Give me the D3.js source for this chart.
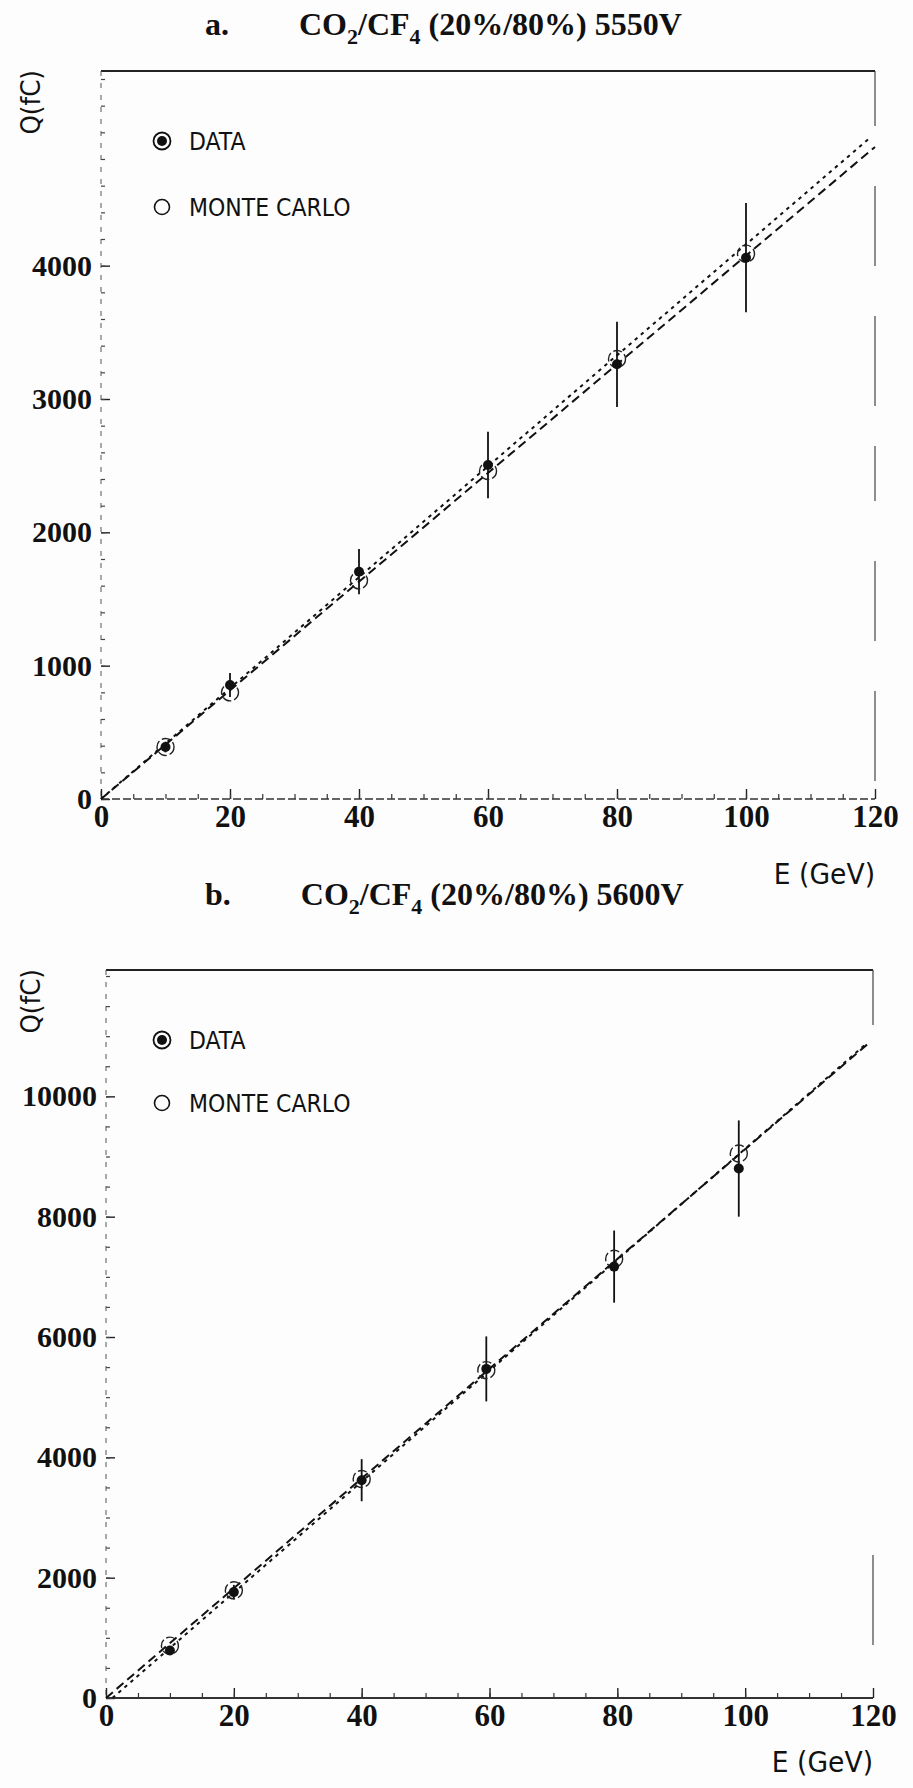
<!DOCTYPE html>
<html>
<head>
<meta charset="utf-8">
<script src="https://cdn.jsdelivr.net/npm/d3@7"></script>
<style>
  body { margin: 0; background: #fdfdfd; }
  svg { display: block; }
</style>
</head>
<body>
<svg id="chart" width="913" height="1788"></svg>
<script>
// ---- Panel a: CO2/CF4 (20%/80%) at 5550 V ----
const energyA   = [10, 20, 40, 60, 80, 100];
const dataQA    = [390, 855, 1705, 2505, 3260, 4060];
const dataErrA  = [40, 90, 170, 250, 320, 410];
const mcEnergyA = [10, 20, 40, 60, 80, 100];
const mcQA      = [390, 800, 1640, 2460, 3300, 4090];
const fitDataEA = [0, 120];
const fitDataQA = [0, 4890];
const fitMcEA   = [0, 119];
const fitMcQA   = [0, 4950];
const yMajorA   = [0, 1000, 2000, 3000, 4000];

// ---- Panel b: CO2/CF4 (20%/80%) at 5600 V ----
const energyB   = [10, 20, 40, 59.5, 79.5, 99];
const dataQB    = [790, 1760, 3620, 5470, 7170, 8800];
const dataErrB  = [60, 120, 350, 540, 600, 800];
const mcEnergyB = [10, 20, 40, 59.5, 79.5, 99];
const mcQB      = [870, 1790, 3640, 5450, 7300, 9050];
const fitDataEB = [0, 119.5];
const fitDataQB = [0, 10900];
const fitMcEB   = [1, 119];
const fitMcQB   = [0, 10880];
const yMajorB   = [0, 2000, 4000, 6000, 8000, 10000];

const xMajor = [0, 20, 40, 60, 80, 100, 120];
const legendLabels = ["DATA", "MONTE CARLO"];

const svg = d3.select("#chart");
const INK = "#111";

function drawPanel(p) {
  const g = svg.append("g");
  const x = d3.scaleLinear().domain([0, 120]).range([p.left, p.right]);
  const y = d3.scaleLinear().domain([0, p.yMax]).range([p.bottom, p.top]);

  // title with subscripts
  const t = g.append("text")
    .attr("x", p.titleX).attr("y", p.titleY)
    .attr("font-family", "'Liberation Serif', 'Times New Roman', serif")
    .attr("font-weight", "bold").attr("font-size", 32).attr("fill", INK);
  t.append("tspan").text(p.tag);
  t.append("tspan").attr("dx", 70).text("CO");
  t.append("tspan").attr("dy", 9).attr("font-size", 22).text("2");
  t.append("tspan").attr("dy", -9).text(p.cf);
  t.append("tspan").attr("dy", 9).attr("font-size", 22).text("4");
  t.append("tspan").attr("dy", -9).attr("dx", 8).text("(20%/80%)  " + p.volt);

  // frame: top border and broken right border
  g.append("line").attr("x1", p.left).attr("x2", p.right)
    .attr("y1", p.top).attr("y2", p.top)
    .attr("stroke", "#222").attr("stroke-width", 2);
  g.append("line").attr("x1", p.right).attr("x2", p.right)
    .attr("y1", p.top).attr("y2", p.bottom)
    .attr("stroke", "#333").attr("stroke-width", 1.1).attr("stroke-dasharray", p.rightDash);

  // left axis (ticks pointing inward)
  const yAxis = g.append("g").attr("transform", `translate(${p.left},0)`)
    .call(d3.axisLeft(y).tickValues(p.yMajor).tickSize(-9).tickPadding(9)
      .tickFormat(d3.format("d")));
  yAxis.select(".domain").remove();
  yAxis.selectAll("line").attr("stroke", "#222").attr("stroke-width", 1.4);
  yAxis.selectAll("text")
    .attr("font-family", "'Liberation Serif', 'Times New Roman', serif")
    .attr("font-weight", "bold").attr("font-size", 30).attr("fill", INK);
  const yMinor = g.append("g").attr("transform", `translate(${p.left},0)`)
    .call(d3.axisLeft(y).tickValues(d3.range(0, p.yMax, p.yMinorStep)).tickSize(-4).tickFormat(""));
  yMinor.select(".domain").remove();
  yMinor.selectAll("line").attr("stroke", "#444").attr("stroke-width", 1.2);
  g.append("line").attr("x1", p.left).attr("x2", p.left)
    .attr("y1", p.top).attr("y2", p.bottom)
    .attr("stroke", "#555").attr("stroke-width", 1).attr("stroke-dasharray", "5,7");

  // bottom axis (ticks pointing inward)
  const xAxis = g.append("g").attr("transform", `translate(0,${p.bottom})`)
    .call(d3.axisBottom(x).tickValues(xMajor).tickSize(-10).tickPadding(6)
      .tickFormat(d3.format("d")));
  xAxis.select(".domain").remove();
  xAxis.selectAll("line").attr("stroke", "#222").attr("stroke-width", 1.4);
  xAxis.selectAll("text")
    .attr("font-family", "'Liberation Serif', 'Times New Roman', serif")
    .attr("font-weight", "bold").attr("font-size", 31).attr("fill", INK);
  const xMinor = g.append("g").attr("transform", `translate(0,${p.bottom})`)
    .call(d3.axisBottom(x).tickValues(d3.range(5, 120, 5)).tickSize(-5).tickFormat(""));
  xMinor.select(".domain").remove();
  xMinor.selectAll("line").attr("stroke", "#333").attr("stroke-width", 1.2);
  g.append("line").attr("x1", p.left).attr("x2", p.right)
    .attr("y1", p.bottom).attr("y2", p.bottom)
    .attr("stroke", "#333").attr("stroke-width", p.xAxisWidth).attr("stroke-dasharray", p.xAxisDash);

  // axis titles
  g.append("text")
    .attr("transform", `translate(${p.qX},${p.qY}) rotate(-90) scale(0.95,1)`)
    .attr("text-anchor", "end")
    .attr("font-family", "'DejaVu Sans', sans-serif").attr("font-size", 26).attr("fill", INK)
    .text("Q(fC)");
  g.append("text")
    .attr("transform", `translate(${p.right},${p.eY}) scale(0.95,1)`)
    .attr("text-anchor", "end")
    .attr("font-family", "'DejaVu Sans', sans-serif").attr("font-size", 28).attr("fill", INK)
    .text("E (GeV)");

  // fit lines
  const line = d3.line().x(d => x(d[0])).y(d => y(d[1]));
  g.append("path").datum(d3.zip(p.fitMcE, p.fitMcQ)).attr("d", line)
    .attr("fill", "none").attr("stroke", INK).attr("stroke-width", 2)
    .attr("stroke-dasharray", "3.5,4.5");
  g.append("path").datum(d3.zip(p.fitDataE, p.fitDataQ)).attr("d", line)
    .attr("fill", "none").attr("stroke", INK).attr("stroke-width", 2)
    .attr("stroke-dasharray", "9,5");

  // error bars of the data
  g.selectAll(".err").data(d3.zip(p.energy, p.dataQ, p.dataErr)).join("line")
    .attr("x1", d => x(d[0])).attr("x2", d => x(d[0]))
    .attr("y1", d => y(d[1] - d[2])).attr("y2", d => y(d[1] + d[2]))
    .attr("stroke", INK).attr("stroke-width", 1.8);

  // Monte Carlo points (open circles)
  g.selectAll(".mc").data(d3.zip(p.mcE, p.mcQ)).join("circle")
    .attr("cx", d => x(d[0])).attr("cy", d => y(d[1])).attr("r", 8.5)
    .attr("fill", "none").attr("stroke", "#222").attr("stroke-width", 1.4)
    .attr("stroke-dasharray", "9,3");

  // data points (filled)
  g.selectAll(".dat").data(d3.zip(p.energy, p.dataQ)).join("circle")
    .attr("cx", d => x(d[0])).attr("cy", d => y(d[1])).attr("r", 5)
    .attr("fill", INK);

  // legend
  const lg = g.append("g").attr("transform", `translate(${p.legX},${p.legY})`);
  lg.append("circle").attr("r", 8.5).attr("fill", "none").attr("stroke", INK).attr("stroke-width", 1.8);
  lg.append("circle").attr("r", 5).attr("fill", INK);
  lg.append("circle").attr("cy", p.legGap).attr("r", 7.5).attr("fill", "none")
    .attr("stroke", INK).attr("stroke-width", 1.6);
  legendLabels.forEach((lab, i) => {
    lg.append("text")
      .attr("transform", `translate(27,${i * p.legGap + 9}) scale(0.88,1)`)
      .attr("font-family", "'DejaVu Sans', sans-serif").attr("font-size", 25).attr("fill", INK)
      .text(lab);
  });
}

drawPanel({
  tag: "a.", cf: "/CF", volt: "5550V",
  titleX: 205, titleY: 35,
  left: 101, right: 875, top: 71, bottom: 799, yMax: 5460,
  yMajor: yMajorA, yMinorStep: 200,
  energy: energyA, dataQ: dataQA, dataErr: dataErrA,
  mcE: mcEnergyA, mcQ: mcQA,
  fitDataE: fitDataEA, fitDataQ: fitDataQA, fitMcE: fitMcEA, fitMcQ: fitMcQA,
  rightDash: "55,60,80,50,90,40", xAxisDash: "8,3", xAxisWidth: 1.3,
  qX: 40, qY: 70, eY: 884,
  legX: 162, legY: 141, legGap: 66
});

drawPanel({
  tag: "b.", cf: "/CF", volt: "5600V",
  titleX: 205, titleY: 905,
  left: 106, right: 873, top: 970, bottom: 1698, yMax: 12100,
  yMajor: yMajorB, yMinorStep: 500,
  energy: energyB, dataQ: dataQB, dataErr: dataErrB,
  mcE: mcEnergyB, mcQ: mcQB,
  fitDataE: fitDataEB, fitDataQ: fitDataQB, fitMcE: fitMcEB, fitMcQ: fitMcQB,
  rightDash: "55,530,90,500", xAxisDash: null, xAxisWidth: 1.8,
  qX: 40, qY: 969, eY: 1772,
  legX: 162, legY: 1040, legGap: 63
});
</script>
</body>
</html>
